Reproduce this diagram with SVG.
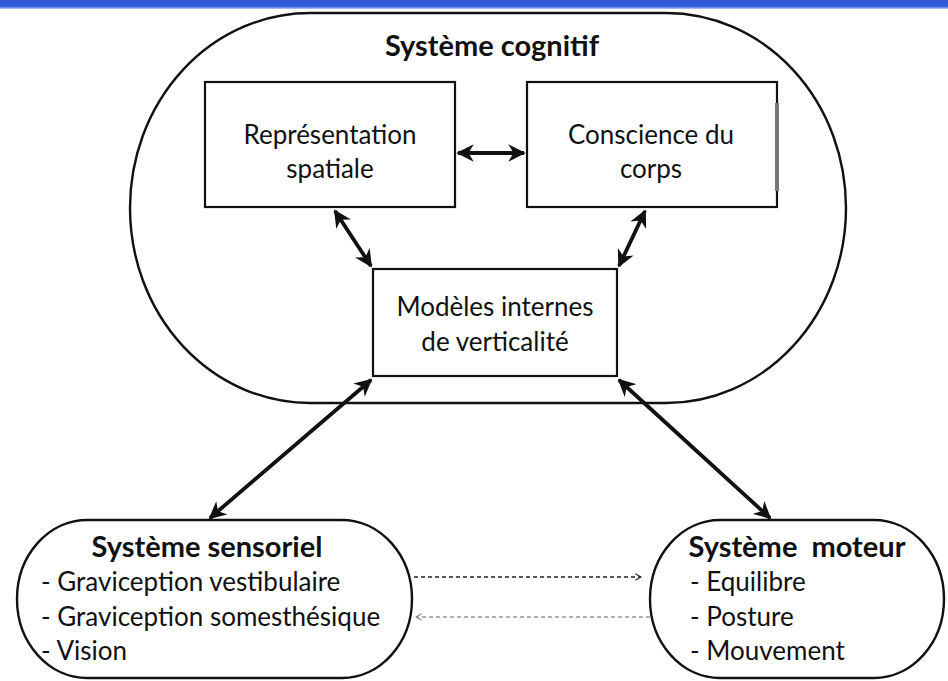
<svg xmlns="http://www.w3.org/2000/svg" width="948" height="681" viewBox="0 0 948 681">
<defs>
<linearGradient id="band" x1="0" y1="0" x2="0" y2="1">
<stop offset="0" stop-color="#3358d0"/>
<stop offset="0.7" stop-color="#2f5fe0"/>
<stop offset="1" stop-color="#b9c9f2"/>
</linearGradient>
<marker id="ah" viewBox="0 0 10 10" refX="9" refY="5" markerWidth="4.6" markerHeight="4.6" orient="auto-start-reverse" markerUnits="strokeWidth">
<path d="M0,0 L10,5 L0,10 L3,5 z" fill="#111"/>
</marker>
<marker id="oh" viewBox="0 0 10 10" refX="9" refY="5" markerWidth="8" markerHeight="8" orient="auto" markerUnits="userSpaceOnUse">
<path d="M2,1 L9,5 L2,9" fill="none" stroke="#222" stroke-width="1.4"/>
</marker>
<marker id="ohg" viewBox="0 0 10 10" refX="9" refY="5" markerWidth="8" markerHeight="8" orient="auto" markerUnits="userSpaceOnUse">
<path d="M2,1 L9,5 L2,9" fill="none" stroke="#888" stroke-width="1.4"/>
</marker>
</defs>
<style>
.shape{fill:#fff;stroke:#111;stroke-width:2.4}
.box{fill:#fff;stroke:#111;stroke-width:2.2}
.t{font-family:"Lato","Liberation Sans",sans-serif;font-size:26px;fill:#111}
.b{font-family:"Lato","Liberation Sans",sans-serif;font-size:29px;font-weight:bold;fill:#111}
.arr{stroke:#111;stroke-width:3.8;fill:none;marker-start:url(#ah);marker-end:url(#ah)}
.dash{stroke:#222;stroke-width:1.4;stroke-dasharray:4 3;fill:none}
.dashg{stroke:#999;stroke-width:1.6;stroke-dasharray:4 3;fill:none}
</style>
<rect width="948" height="681" fill="#fff"/>
<rect x="0" y="0" width="948" height="9" fill="url(#band)"/>

<g id="systeme-cognitif">
<rect class="shape" x="130" y="13" width="716" height="390" rx="180" ry="195"/>
<text class="b" x="492" y="56" text-anchor="middle">Système cognitif</text>
</g>

<g id="representation-spatiale">
<rect class="box" x="205" y="82" width="250" height="125"/>
<text class="t" x="330" y="144" text-anchor="middle">Représentation</text>
<text class="t" x="330" y="178" text-anchor="middle">spatiale</text>
</g>

<g id="conscience-du-corps">
<rect class="box" x="527" y="82" width="250" height="125"/>
<rect x="775" y="103" width="4" height="88" fill="#777"/>
<text class="t" x="651" y="144" text-anchor="middle">Conscience du</text>
<text class="t" x="651" y="178" text-anchor="middle">corps</text>
</g>

<g id="modeles-internes">
<rect class="box" x="373" y="269" width="244" height="107"/>
<text class="t" x="495" y="316" text-anchor="middle">Modèles internes</text>
<text class="t" x="495" y="351" text-anchor="middle">de verticalité</text>
</g>

<g id="systeme-sensoriel">
<rect class="shape" x="17" y="520" width="395" height="158" rx="70" ry="79"/>
<text class="b" x="207" y="557" text-anchor="middle">Système sensoriel</text>
<text class="t" x="41" y="591">- Graviception vestibulaire</text>
<text class="t" x="41" y="626">- Graviception somesthésique</text>
<text class="t" x="41" y="660">- Vision</text>
</g>

<g id="systeme-moteur">
<rect class="shape" x="650" y="520" width="294" height="158" rx="70" ry="79"/>
<text class="b" x="797" y="557" text-anchor="middle" xml:space="preserve">Système  moteur</text>
<text class="t" x="690" y="591">- Equilibre</text>
<text class="t" x="690" y="626">- Posture</text>
<text class="t" x="690" y="660">- Mouvement</text>
</g>

<g id="connectors">
<line class="arr" x1="458" y1="153" x2="524" y2="153"/>
<line class="arr" x1="335" y1="211" x2="371" y2="266"/>
<line class="arr" x1="645" y1="211" x2="619" y2="266"/>
<line class="arr" x1="371" y1="380" x2="210" y2="518"/>
<line class="arr" x1="619" y1="380" x2="770" y2="518"/>
<line class="dash" x1="414" y1="577" x2="641" y2="577" marker-end="url(#oh)"/>
<line class="dashg" x1="650" y1="617" x2="416" y2="617" marker-end="url(#ohg)"/>
</g>
</svg>
